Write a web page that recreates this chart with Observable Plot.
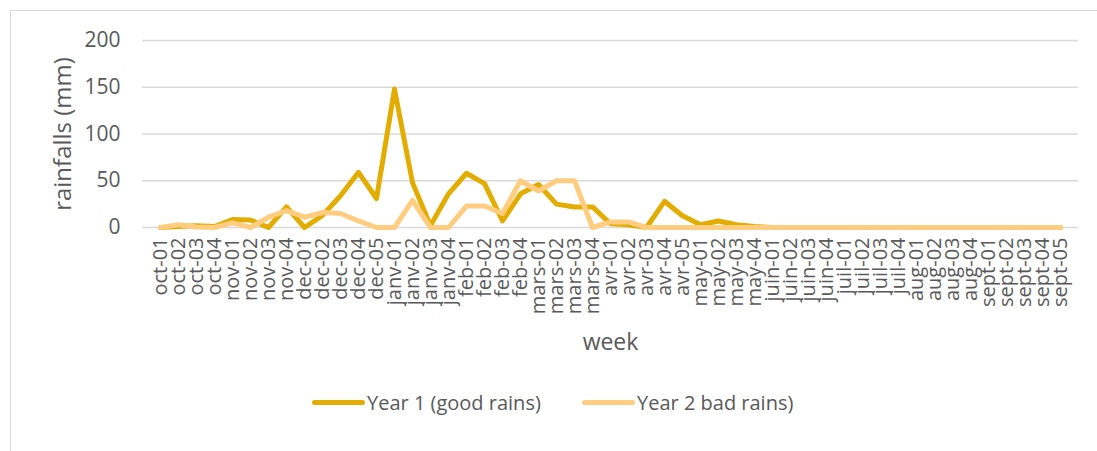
<!DOCTYPE html>
<html>
<head>
<meta charset="utf-8">
<script src="https://cdn.jsdelivr.net/npm/d3@7"></script>
<script src="https://cdn.jsdelivr.net/npm/@observablehq/plot@0.6"></script>
<style>
  html, body { margin: 0; padding: 0; background: #fff; }
  body { width: 1097px; height: 451px; position: relative; overflow: hidden; font-family: "Open Sans", sans-serif; }
  #frame { position: absolute; left: 9.5px; top: 9.5px; width: 1200px; height: 600px; border: 1.5px solid #d9d9d9; box-sizing: border-box; }
  #chart { position: absolute; left: 0; top: 0; }
  #legend { position: absolute; left: 0; top: 389px; width: 1097px; font-size: 20px; color: #595959; }
  .item { position: absolute; top: 0; display: flex; align-items: center; white-space: nowrap; }
  .sw { width: 53px; height: 5px; border-radius: 3px; margin-right: 2px; }
</style>
</head>
<body>
<div id="frame"></div>
<div id="chart"></div>
<div id="legend"></div>
<script>
const weeks = [
  "oct-01","oct-02","oct-03","oct-04",
  "nov-01","nov-02","nov-03","nov-04",
  "dec-01","dec-02","dec-03","dec-04","dec-05",
  "janv-01","janv-02","janv-03","janv-04",
  "feb-01","feb-02","feb-03","feb-04",
  "mars-01","mars-02","mars-03","mars-04",
  "avr-01","avr-02","avr-03","avr-04","avr-05",
  "may-01","may-02","may-03","may-04",
  "juin-01","juin-02","juin-03","juin-04",
  "juil-01","juil-02","juil-03","juil-04",
  "aug-01","aug-02","aug-03","aug-04",
  "sept-01","sept-02","sept-03","sept-04","sept-05"
];
const year1 = [
  0, 1, 2, 1,
  8.5, 8, 0, 22,
  0, 13, 34, 59, 31,
  148, 48, 2, 36,
  58, 47, 7, 36,
  46, 25, 22, 22,
  4, 3, 0, 28, 12.5,
  3, 7, 3, 1,
  0, 0, 0, 0,
  0, 0, 0, 0,
  0, 0, 0, 0,
  0, 0, 0, 0, 0
];
const year2 = [
  0, 3, 0.5, 0,
  5, 0, 11, 18,
  11, 16, 15, 7, 0,
  0, 29, 0, 0,
  23, 23, 15, 50,
  39, 50, 50, 0,
  6, 6, 0, 0, 0,
  0, 0, 0, 0,
  0, 0, 0, 0,
  0, 0, 0, 0,
  0, 0, 0, 0,
  0, 0, 0, 0, 0
];
const yTicks = [0, 50, 100, 150, 200];
const seriesNames = ["Year 1 (good rains)", "Year 2 bad rains)"];
const seriesColors = ["#e3ac00", "#ffcc80"];

const rows1 = weeks.map((w, i) => ({week: w, value: year1[i]}));
const rows2 = weeks.map((w, i) => ({week: w, value: year2[i]}));

const textColor = "#595959";

const chart = Plot.plot({
  width: 1097,
  height: 380,
  marginLeft: 142,
  marginRight: 19,
  marginTop: 40,
  marginBottom: 153,
  style: {fontFamily: "Open Sans, sans-serif", fontSize: "20px", color: textColor, background: "transparent"},
  x: {type: "point", domain: weeks, padding: 0.5},
  y: {domain: [0, 200]},
  marks: [
    Plot.gridY(yTicks, {stroke: "#d9d9d9", strokeOpacity: 1, strokeWidth: 1.5}),
    Plot.axisY(yTicks, {tickSize: 0, tickPadding: 22, label: null, fontSize: 21, fill: textColor}),
    Plot.axisX({tickSize: 0, tickPadding: 10, tickRotate: -90, label: null, fontSize: 20, fill: textColor}),
    Plot.line(rows1, {x: "week", y: "value", stroke: seriesColors[0], strokeWidth: 5, strokeLinejoin: "round", strokeLinecap: "round"}),
    Plot.line(rows2, {x: "week", y: "value", stroke: seriesColors[1], strokeWidth: 5, strokeLinejoin: "round", strokeLinecap: "round"}),
    Plot.text(["rainfalls (mm)"], {frameAnchor: "left", dx: -79, rotate: -90, textAnchor: "middle", fontSize: 24, fill: textColor}),
    Plot.text(["week"], {frameAnchor: "bottom", dy: 122, fontSize: 23, fill: textColor})
  ]
});
document.getElementById("chart").appendChild(chart);

const legend = document.getElementById("legend");
const lefts = [312, 582];
seriesNames.forEach((name, i) => {
  const item = document.createElement("div");
  item.className = "item";
  item.style.left = lefts[i] + "px";
  const sw = document.createElement("div");
  sw.className = "sw";
  sw.style.background = seriesColors[i];
  const t = document.createElement("span");
  t.textContent = name;
  item.appendChild(sw);
  item.appendChild(t);
  legend.appendChild(item);
});
</script>
</body>
</html>
